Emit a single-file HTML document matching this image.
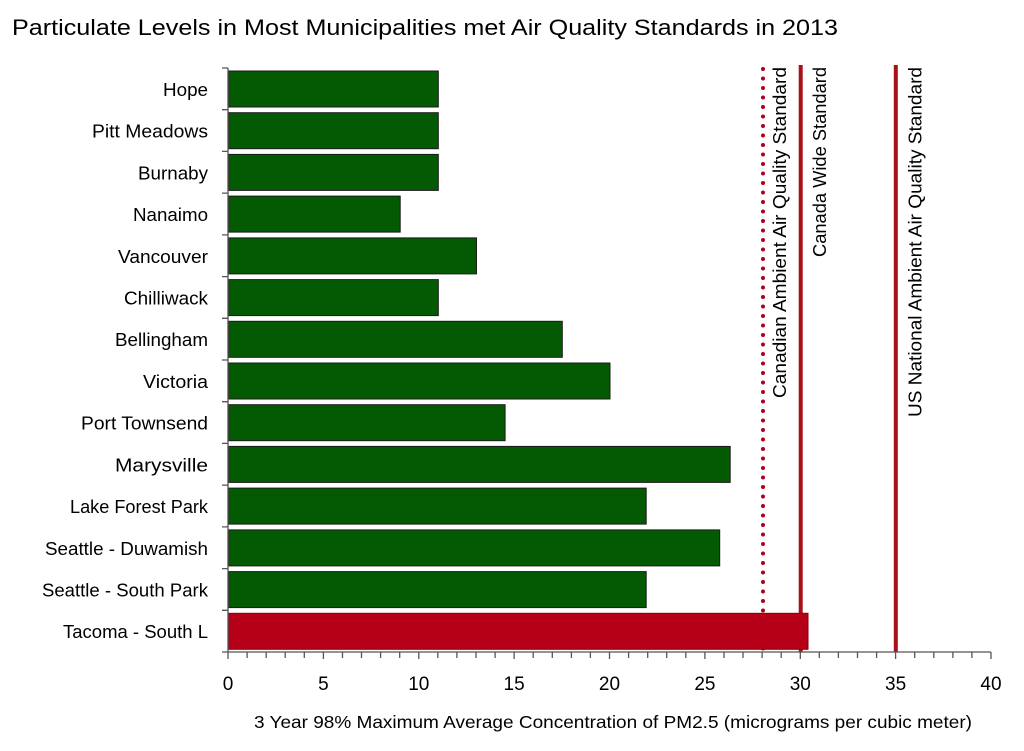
<!DOCTYPE html>
<html><head><meta charset="utf-8"><style>
html,body{margin:0;padding:0;background:#fff;}
svg{display:block;font-family:"Liberation Sans",sans-serif;}
</style></head><body>
<svg width="1024" height="751" viewBox="0 0 1024 751" xmlns="http://www.w3.org/2000/svg">
<rect width="1024" height="751" fill="#fff"/>
<text x="12" y="35" font-size="22.5" fill="#000" textLength="826" lengthAdjust="spacingAndGlyphs">Particulate Levels in Most Municipalities met Air Quality Standards in 2013</text>

<!-- bars -->
<g stroke="#1b1b1b" stroke-width="1">
<rect x="228.5" y="71.0" width="209.8" height="36" fill="#035a03"/>
<rect x="228.5" y="112.7" width="209.8" height="36" fill="#035a03"/>
<rect x="228.5" y="154.4" width="209.8" height="36" fill="#035a03"/>
<rect x="228.5" y="196.1" width="171.7" height="36" fill="#035a03"/>
<rect x="228.5" y="237.9" width="248.0" height="36" fill="#035a03"/>
<rect x="228.5" y="279.6" width="209.8" height="36" fill="#035a03"/>
<rect x="228.5" y="321.3" width="333.8" height="36" fill="#035a03"/>
<rect x="228.5" y="363.0" width="381.5" height="36" fill="#035a03"/>
<rect x="228.5" y="404.7" width="276.6" height="36" fill="#035a03"/>
<rect x="228.5" y="446.4" width="501.7" height="36" fill="#035a03"/>
<rect x="228.5" y="488.1" width="417.7" height="36" fill="#035a03"/>
<rect x="228.5" y="529.9" width="491.2" height="36" fill="#035a03"/>
<rect x="228.5" y="571.6" width="417.7" height="36" fill="#035a03"/>
</g>

<!-- standard lines -->
<line x1="763" y1="69" x2="763" y2="650" stroke="#b0001a" stroke-width="4" stroke-linecap="round" stroke-dasharray="0 9.5"/>
<line x1="800.7" y1="65" x2="800.7" y2="652" stroke="#a8101a" stroke-width="4"/>
<line x1="895.8" y1="65" x2="895.8" y2="652" stroke="#a8101a" stroke-width="4"/>

<rect x="228.5" y="613.3" width="579.5" height="36" fill="#b50018" stroke="#8a0012" stroke-width="1"/>

<!-- axes -->
<g stroke="#555" stroke-width="1.3" fill="none">
<line x1="228" y1="68" x2="228" y2="652"/>
<line x1="228" y1="652" x2="991" y2="652"/>
<path d="M222 68H228M222 109.7H228M222 151.4H228M222 193.1H228M222 234.9H228M222 276.6H228M222 318.3H228M222 360H228M222 401.7H228M222 443.4H228M222 485.1H228M222 526.9H228M222 568.6H228M222 610.3H228M222 652H228"/>
<path d="M228 652V659M247.1 652V658M266.2 652V658M285.2 652V658M304.3 652V658M323.4 652V659M342.5 652V658M361.5 652V658M380.6 652V658M399.7 652V658M418.8 652V659M437.8 652V658M456.9 652V658M476 652V658M495.1 652V658M514.1 652V659M533.2 652V658M552.3 652V658M571.4 652V658M590.4 652V658M609.5 652V659M628.6 652V658M647.7 652V658M666.7 652V658M685.8 652V658M704.9 652V659M724 652V658M743 652V658M762.1 652V658M781.2 652V658M800.3 652V659M819.3 652V658M838.4 652V658M857.5 652V658M876.6 652V658M895.6 652V659M914.7 652V658M933.8 652V658M952.9 652V658M971.9 652V658M991 652V659"/>
</g>

<!-- category labels -->
<g font-size="18" fill="#000" text-anchor="end">
<text x="208" y="96" textLength="45" lengthAdjust="spacingAndGlyphs">Hope</text>
<text x="208" y="137.6" textLength="116" lengthAdjust="spacingAndGlyphs">Pitt Meadows</text>
<text x="208" y="179.3" textLength="70" lengthAdjust="spacingAndGlyphs">Burnaby</text>
<text x="208" y="221" textLength="75" lengthAdjust="spacingAndGlyphs">Nanaimo</text>
<text x="208" y="262.8" textLength="90" lengthAdjust="spacingAndGlyphs">Vancouver</text>
<text x="208" y="304.5" textLength="84" lengthAdjust="spacingAndGlyphs">Chilliwack</text>
<text x="208" y="346.2" textLength="93" lengthAdjust="spacingAndGlyphs">Bellingham</text>
<text x="208" y="387.9" textLength="65" lengthAdjust="spacingAndGlyphs">Victoria</text>
<text x="208" y="429.6" textLength="127" lengthAdjust="spacingAndGlyphs">Port Townsend</text>
<text x="208" y="471.3" textLength="93" lengthAdjust="spacingAndGlyphs">Marysville</text>
<text x="208" y="513" textLength="138" lengthAdjust="spacingAndGlyphs">Lake Forest Park</text>
<text x="208" y="554.8" textLength="163" lengthAdjust="spacingAndGlyphs">Seattle - Duwamish</text>
<text x="208" y="596.5" textLength="166" lengthAdjust="spacingAndGlyphs">Seattle - South Park</text>
<text x="208" y="638.2" textLength="145" lengthAdjust="spacingAndGlyphs">Tacoma - South L</text>
</g>

<!-- x tick labels -->
<g font-size="19" fill="#000" text-anchor="middle">
<text x="228" y="690">0</text>
<text x="323.4" y="690">5</text>
<text x="418.8" y="690">10</text>
<text x="514.1" y="690">15</text>
<text x="609.5" y="690">20</text>
<text x="704.9" y="690">25</text>
<text x="800.3" y="690">30</text>
<text x="895.6" y="690">35</text>
<text x="991" y="690">40</text>
</g>
<text x="254" y="728" font-size="17.5" fill="#000" textLength="718" lengthAdjust="spacingAndGlyphs">3 Year 98% Maximum Average Concentration of PM2.5 (micrograms per cubic meter)</text>

<!-- rotated labels -->
<g font-size="18" fill="#000" text-anchor="end">
<text transform="translate(786,67) rotate(-90)" textLength="331" lengthAdjust="spacingAndGlyphs">Canadian Ambient Air Quality Standard</text>
<text transform="translate(826,67) rotate(-90)" textLength="190" lengthAdjust="spacingAndGlyphs">Canada Wide Standard</text>
<text transform="translate(921.5,67) rotate(-90)" textLength="350" lengthAdjust="spacingAndGlyphs">US National Ambient Air Quality Standard</text>
</g>
</svg>
</body></html>
